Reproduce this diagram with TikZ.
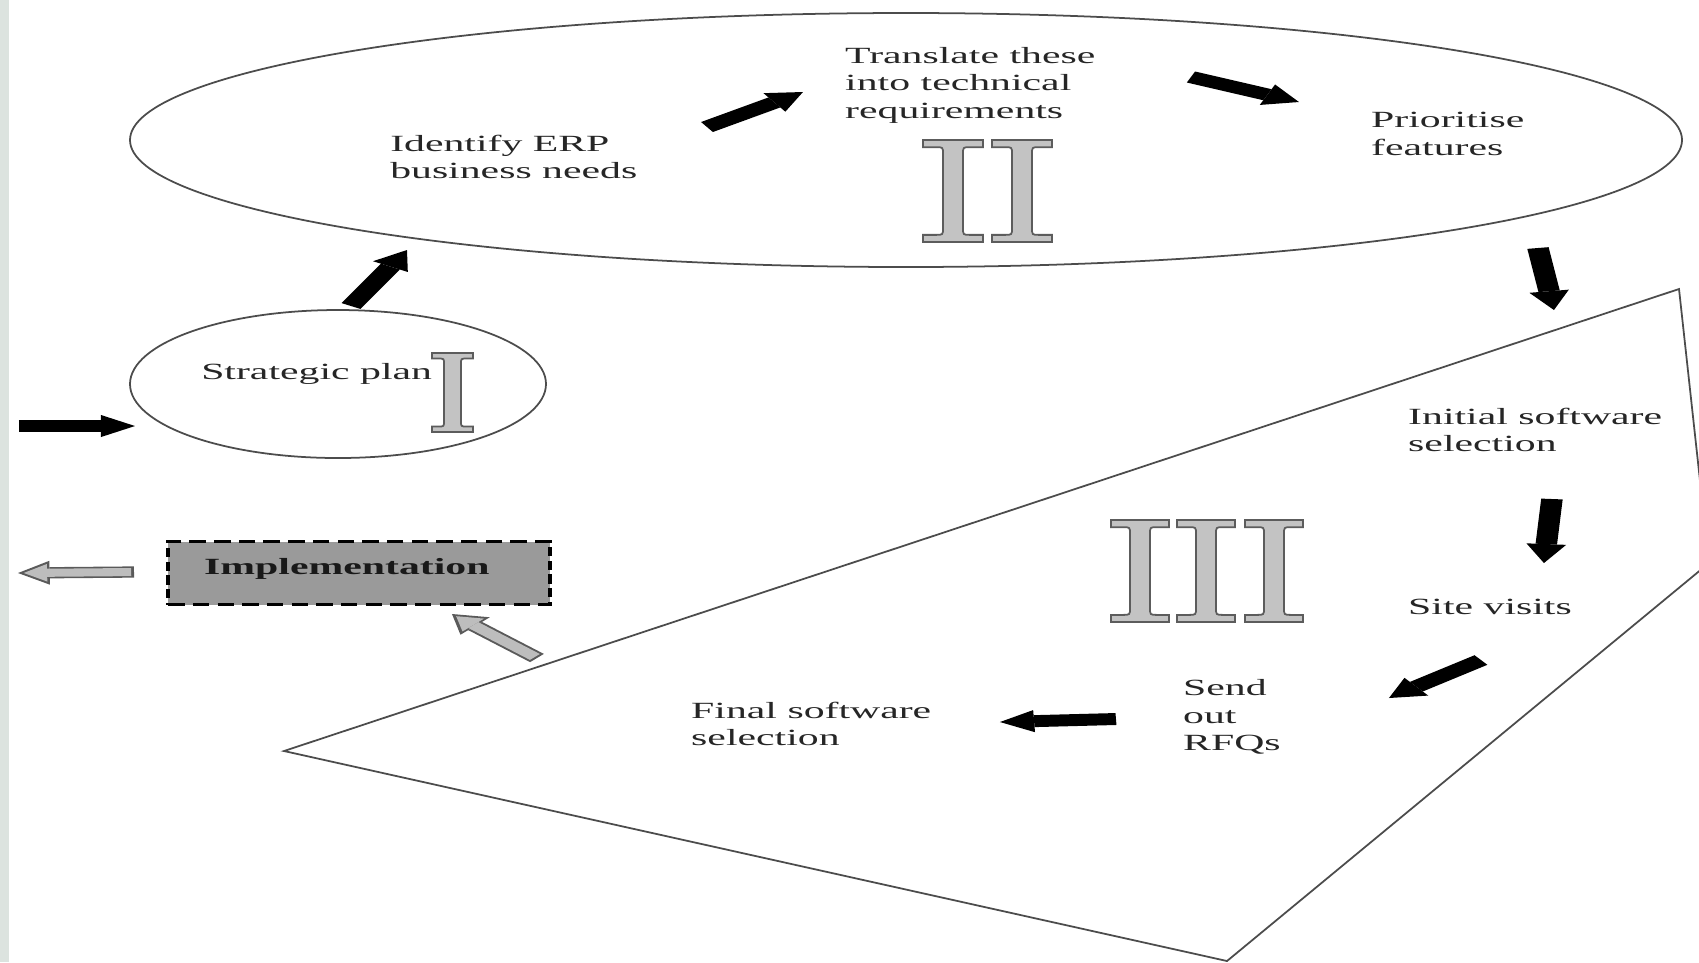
\documentclass[tikz,border=0pt]{standalone}
\usepackage{fontspec}
\setmainfont{Liberation Serif}
\usetikzlibrary{arrows.meta}
\definecolor{stripe}{HTML}{DCE3DF}
\definecolor{numfill}{HTML}{C3C3C3}
\definecolor{numline}{HTML}{5C5C5C}
\definecolor{implfill}{HTML}{9A9A9A}
\definecolor{grayfill}{HTML}{BDBDBD}
\definecolor{grayline}{HTML}{5A5A5A}
\tikzset{
  outline/.style={draw=black!70, line width=0.5pt},
  romanI/.style={fill=numfill, draw=numline, line width=0.5pt},
  stagetxt/.style={anchor=west, inner sep=0pt, align=left, text=black!85, font=\fontsize{6.6}{7.8}\selectfont},
  implbox/.style={draw=black, dash pattern=on 2.6pt off 1.3pt, line width=0.6pt, fill=implfill,
    minimum width=21.2mm, minimum height=6.3mm, text width=17.2mm, inner xsep=2mm, align=left,
    text depth=1.4mm, text=black!90, font=\bfseries\fontsize{6.6}{7.8}\selectfont},
  blkarrow/.style={line width=3.4pt, -{Triangle[width=6.3pt,length=5.4pt,line width=0pt]}},
  grayarrow/.style={draw=grayfill, line width=2.3pt, shorten >=0.9pt, shorten <=0.45pt,
    -{Triangle[width=5pt,length=3.7pt,line width=0pt]},
    preaction={draw=grayline, line width=3.2pt, shorten >=0pt, shorten <=0pt,
      -{Triangle[width=6.8pt,length=5pt,line width=0pt]}}},
  pics/numeral/.style n args={3}{code={
    \pgfmathsetmacro\numw{#1}
    \pgfmathsetmacro\numh{#2}
    \pgfmathsetmacro\numt{0.07*#2}
    \pgfmathsetmacro\numa{(#1-#3)/2}
    \pgfmathsetmacro\numb{(#1+#3)/2}
    \draw[romanI] (0,0) -- (\numw,0) -- (\numw,\numt) -- (\numb+\numt,\numt) .. controls (\numb,\numt) .. (\numb,2*\numt)
      -- (\numb,\numh-2*\numt) .. controls (\numb,\numh-\numt) .. (\numb+\numt,\numh-\numt) -- (\numw,\numh-\numt)
      -- (\numw,\numh) -- (0,\numh) -- (0,\numh-\numt) -- (\numa-\numt,\numh-\numt) .. controls (\numa,\numh-\numt) .. (\numa,\numh-2*\numt)
      -- (\numa,2*\numt) .. controls (\numa,\numt) .. (\numa-\numt,\numt) -- (0,\numt) -- cycle;
  }}
}
\begin{document}
\begin{tikzpicture}[x=0.1mm, y=-0.1mm]
\useasboundingbox (0,0) rectangle (1699,962);
\clip (0,0) rectangle (1699,962);
\fill[white] (0,0) rectangle (1699,962);
\fill[stripe] (0,0) rectangle (9,962);
\draw[outline] (906,140) ellipse [x radius=776, y radius=127];
\draw[outline] (338,384) ellipse [x radius=208, y radius=74];
\draw[outline, fill=white] (284,751) -- (1679,289) -- (1709,563) -- (1227,961) -- cycle;
\pic at (432,353) {numeral={41}{79}{17}};
\pic at (923,140) {numeral={60}{102}{20}};
\pic at (992,140) {numeral={60}{102}{20}};
\foreach \nx in {1111,1177,1245} \pic at (\nx,520) {numeral={58}{102}{20}};
\begin{scope}[x=0.05556mm, transform canvas={xscale=1.8}]
\node[stagetxt] (strat) at (200,374) {Strategic plan};
\node[stagetxt] (ident) at (389,157) {Identify ERP\\business needs};
\node[stagetxt] (transl) at (844,85) {Translate these\\into technical\\requirements};
\node[stagetxt] (prio) at (1370,134) {Prioritise\\features};
\node[stagetxt] (init) at (1407,430) {Initial software\\selection};
\node[stagetxt] (site) at (1407,607) {Site visits};
\node[stagetxt] (send) at (1182,717) {Send\\out\\RFQs};
\node[stagetxt] (final) at (690,724) {Final software\\selection};
\node[implbox] (impl) at (359,573) {Implementation};
\coordinate (t1) at (19,426);   \coordinate (h1) at (135,426);
\coordinate (t2) at (351,306);  \coordinate (h2) at (407,250);
\coordinate (t3) at (707,127);  \coordinate (h3) at (803,92);
\coordinate (t4) at (1191,77);  \coordinate (h4) at (1299,102);
\coordinate (t5) at (1538,248); \coordinate (h5) at (1554,310);
\coordinate (t6) at (1552,499); \coordinate (h6) at (1544,563);
\coordinate (t7) at (1481,660); \coordinate (h7) at (1389,698);
\coordinate (t8) at (1116,719); \coordinate (h8) at (1000,722);
\coordinate (t9) at (537,658);  \coordinate (h9) at (452,614);
\coordinate (t10) at (134,572); \coordinate (h10) at (18,573);
\foreach \a in {1,...,8} \draw[blkarrow] (t\a) -- (h\a);
\foreach \a in {9,10} \draw[grayarrow] (t\a) -- (h\a);
\end{scope}
\end{tikzpicture}
\end{document}
